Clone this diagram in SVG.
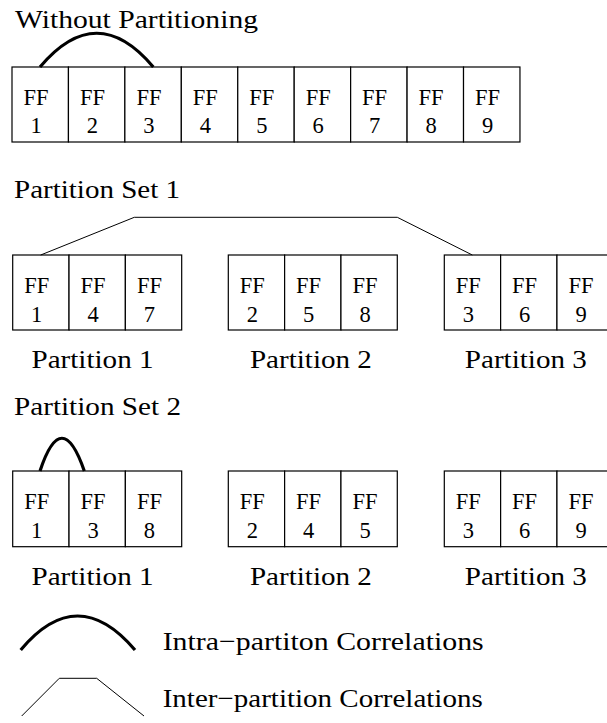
<svg xmlns="http://www.w3.org/2000/svg" width="607" height="723" viewBox="0 0 607 723">
  <style>
    .cell { fill: #fff; stroke: #000; stroke-width: 1.2; }
    .ff { font-size: 22.5px; fill: #000; text-anchor: middle; }
    .title { font-size: 26px; fill: #000; }
    .lbl { font-size: 26px; fill: #000; text-anchor: middle; }
    .intra { fill: none; stroke: #000; stroke-width: 3.2; stroke-linecap: butt; }
    .inter { fill: none; stroke: #000; stroke-width: 1; }
  </style>
  <rect width="607" height="723" fill="#fff"/>

  <g font-family="Liberation Serif, Times New Roman, serif">
  <!-- Row without partitioning -->
  <text class="title" x="15" y="28" textLength="243" lengthAdjust="spacingAndGlyphs">Without Partitioning</text>
  <g id="row0">
    <g id="r0-ff1"><rect class="cell" x="12" y="67" width="56.44" height="75"/><text class="ff" x="36" y="104.5">FF</text><text class="ff" x="36" y="133">1</text></g>
    <g id="r0-ff2"><rect class="cell" x="68.44" y="67" width="56.44" height="75"/><text class="ff" x="92.4" y="104.5">FF</text><text class="ff" x="92.4" y="133">2</text></g>
    <g id="r0-ff3"><rect class="cell" x="124.88" y="67" width="56.44" height="75"/><text class="ff" x="148.9" y="104.5">FF</text><text class="ff" x="148.9" y="133">3</text></g>
    <g id="r0-ff4"><rect class="cell" x="181.32" y="67" width="56.44" height="75"/><text class="ff" x="205.3" y="104.5">FF</text><text class="ff" x="205.3" y="133">4</text></g>
    <g id="r0-ff5"><rect class="cell" x="237.76" y="67" width="56.44" height="75"/><text class="ff" x="261.8" y="104.5">FF</text><text class="ff" x="261.8" y="133">5</text></g>
    <g id="r0-ff6"><rect class="cell" x="294.2" y="67" width="56.44" height="75"/><text class="ff" x="318.2" y="104.5">FF</text><text class="ff" x="318.2" y="133">6</text></g>
    <g id="r0-ff7"><rect class="cell" x="350.64" y="67" width="56.44" height="75"/><text class="ff" x="374.6" y="104.5">FF</text><text class="ff" x="374.6" y="133">7</text></g>
    <g id="r0-ff8"><rect class="cell" x="407.08" y="67" width="56.44" height="75"/><text class="ff" x="431.1" y="104.5">FF</text><text class="ff" x="431.1" y="133">8</text></g>
    <g id="r0-ff9"><rect class="cell" x="463.52" y="67" width="56.44" height="75"/><text class="ff" x="487.5" y="104.5">FF</text><text class="ff" x="487.5" y="133">9</text></g>
  </g>

  <!-- Partition set 1 -->
  <text class="title" x="14" y="197.7" textLength="166" lengthAdjust="spacingAndGlyphs">Partition Set 1</text>
  <g id="set1-p1">
    <g id="s1-ff1"><rect class="cell" x="12.7" y="255" width="56.33" height="75"/><text class="ff" x="36.7" y="293">FF</text><text class="ff" x="36.7" y="321.5">1</text></g>
    <g id="s1-ff4"><rect class="cell" x="69.03" y="255" width="56.33" height="75"/><text class="ff" x="93" y="293">FF</text><text class="ff" x="93" y="321.5">4</text></g>
    <g id="s1-ff7"><rect class="cell" x="125.36" y="255" width="56.33" height="75"/><text class="ff" x="149.4" y="293">FF</text><text class="ff" x="149.4" y="321.5">7</text></g>
  </g>
  <g id="set1-p2">
    <g id="s1-ff2"><rect class="cell" x="228.3" y="255" width="56.33" height="75"/><text class="ff" x="252.3" y="293">FF</text><text class="ff" x="252.3" y="321.5">2</text></g>
    <g id="s1-ff5"><rect class="cell" x="284.63" y="255" width="56.33" height="75"/><text class="ff" x="308.6" y="293">FF</text><text class="ff" x="308.6" y="321.5">5</text></g>
    <g id="s1-ff8"><rect class="cell" x="340.96" y="255" width="56.33" height="75"/><text class="ff" x="365" y="293">FF</text><text class="ff" x="365" y="321.5">8</text></g>
  </g>
  <g id="set1-p3">
    <g id="s1-ff3"><rect class="cell" x="444.3" y="255" width="56.33" height="75"/><text class="ff" x="468.3" y="293">FF</text><text class="ff" x="468.3" y="321.5">3</text></g>
    <g id="s1-ff6"><rect class="cell" x="500.63" y="255" width="56.33" height="75"/><text class="ff" x="524.6" y="293">FF</text><text class="ff" x="524.6" y="321.5">6</text></g>
    <g id="s1-ff9"><rect class="cell" x="556.96" y="255" width="56.33" height="75"/><text class="ff" x="581" y="293">FF</text><text class="ff" x="581" y="321.5">9</text></g>
  </g>
  <text class="lbl" x="92.5" y="368.3" textLength="122" lengthAdjust="spacingAndGlyphs">Partition 1</text>
  <text class="lbl" x="310.9" y="368.3" textLength="122" lengthAdjust="spacingAndGlyphs">Partition 2</text>
  <text class="lbl" x="525.8" y="368.3" textLength="122" lengthAdjust="spacingAndGlyphs">Partition 3</text>

  <!-- Partition set 2 -->
  <text class="title" x="14" y="415" textLength="167" lengthAdjust="spacingAndGlyphs">Partition Set 2</text>
  <g id="set2-p1">
    <g id="s2-ff1"><rect class="cell" x="12.7" y="471" width="56.33" height="75.7"/><text class="ff" x="36.7" y="509">FF</text><text class="ff" x="36.7" y="537.5">1</text></g>
    <g id="s2-ff3"><rect class="cell" x="69.03" y="471" width="56.33" height="75.7"/><text class="ff" x="93" y="509">FF</text><text class="ff" x="93" y="537.5">3</text></g>
    <g id="s2-ff8"><rect class="cell" x="125.36" y="471" width="56.33" height="75.7"/><text class="ff" x="149.4" y="509">FF</text><text class="ff" x="149.4" y="537.5">8</text></g>
  </g>
  <g id="set2-p2">
    <g id="s2-ff2"><rect class="cell" x="228.3" y="471" width="56.33" height="75.7"/><text class="ff" x="252.3" y="509">FF</text><text class="ff" x="252.3" y="537.5">2</text></g>
    <g id="s2-ff4"><rect class="cell" x="284.63" y="471" width="56.33" height="75.7"/><text class="ff" x="308.6" y="509">FF</text><text class="ff" x="308.6" y="537.5">4</text></g>
    <g id="s2-ff5"><rect class="cell" x="340.96" y="471" width="56.33" height="75.7"/><text class="ff" x="365" y="509">FF</text><text class="ff" x="365" y="537.5">5</text></g>
  </g>
  <g id="set2-p3">
    <g id="s2-ff3b"><rect class="cell" x="444.3" y="471" width="56.33" height="75.7"/><text class="ff" x="468.3" y="509">FF</text><text class="ff" x="468.3" y="537.5">3</text></g>
    <g id="s2-ff6"><rect class="cell" x="500.63" y="471" width="56.33" height="75.7"/><text class="ff" x="524.6" y="509">FF</text><text class="ff" x="524.6" y="537.5">6</text></g>
    <g id="s2-ff9"><rect class="cell" x="556.96" y="471" width="56.33" height="75.7"/><text class="ff" x="581" y="509">FF</text><text class="ff" x="581" y="537.5">9</text></g>
  </g>
  <text class="lbl" x="92.5" y="585" textLength="122" lengthAdjust="spacingAndGlyphs">Partition 1</text>
  <text class="lbl" x="310.9" y="585" textLength="122" lengthAdjust="spacingAndGlyphs">Partition 2</text>
  <text class="lbl" x="525.8" y="585" textLength="122" lengthAdjust="spacingAndGlyphs">Partition 3</text>

  <!-- Correlation connectors -->
  <g id="connectors">
    <path class="intra" d="M40,67 Q96.7,-0.5 153.3,67"/>
    <polyline class="inter" points="40.7,255 134.3,217.3 397.3,217.3 472.3,255"/>
    <path class="intra" d="M40,471 Q61.7,405.5 84.3,471"/>
  </g>

  <!-- Legend -->
  <g id="legend">
    <path class="intra" d="M20.7,650 Q77.3,582 135,650"/>
    <text class="title" x="162.7" y="650" textLength="321" lengthAdjust="spacingAndGlyphs">Intra−partiton Correlations</text>
    <polyline class="inter" points="21.7,716 59.3,678.3 96.7,678.3 144,716"/>
    <text class="title" x="162.7" y="706.7" textLength="320" lengthAdjust="spacingAndGlyphs">Inter−partition Correlations</text>
  </g>
  </g>
</svg>
